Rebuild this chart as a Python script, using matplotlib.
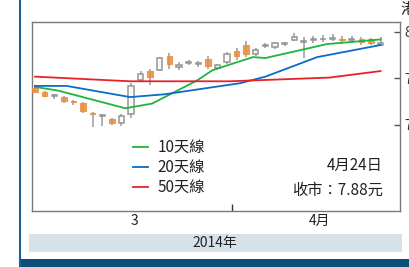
import matplotlib
matplotlib.use("Agg")
import matplotlib.pyplot as plt
from matplotlib.patches import Rectangle
from matplotlib.lines import Line2D
import numpy as np

plt.rcParams['font.family'] = ['Noto Sans CJK TC', 'DejaVu Sans']

# ---- data (trading-day index, prices in HK$) ----
opens  = [7.40, 7.36, 7.31, 7.30, 7.26, 7.24, 7.13, 7.10, 7.06, 7.02, 7.12, 7.48, 7.58,
          7.59, 7.74, 7.62, 7.67, 7.66, 7.71, 7.61, 7.68, 7.80, 7.86, 7.76, 7.85, 7.84,
          7.87, 7.91, 7.89, 7.91, 7.92, 7.93, 7.92, 7.91, 7.93, 7.92, 7.86]
highs  = [7.42, 7.37, 7.33, 7.31, 7.27, 7.25, 7.14, 7.12, 7.07, 7.12, 7.45, 7.58, 7.60,
          7.73, 7.77, 7.68, 7.70, 7.69, 7.74, 7.66, 7.78, 7.83, 7.90, 7.83, 7.88, 7.89,
          7.89, 7.99, 7.95, 7.96, 7.97, 7.98, 7.96, 7.96, 7.95, 7.94, 7.95]
lows   = [7.35, 7.30, 7.28, 7.24, 7.22, 7.13, 6.98, 6.99, 7.00, 6.99, 7.08, 7.46, 7.43,
          7.58, 7.60, 7.59, 7.64, 7.62, 7.60, 7.59, 7.66, 7.70, 7.73, 7.74, 7.83, 7.82,
          7.85, 7.90, 7.72, 7.88, 7.89, 7.90, 7.87, 7.88, 7.86, 7.86, 7.85]
closes = [7.36, 7.31, 7.31, 7.26, 7.25, 7.15, 7.12, 7.11, 7.02, 7.10, 7.42, 7.55, 7.52,
          7.72, 7.66, 7.64, 7.67, 7.67, 7.63, 7.64, 7.76, 7.74, 7.76, 7.81, 7.86, 7.88,
          7.87, 7.95, 7.90, 7.92, 7.93, 7.94, 7.91, 7.93, 7.89, 7.88, 7.88]

ma10_x = [0, 2.4, 9.4, 12.2, 16.9, 18.5, 22.7, 24.0, 30.4, 36]
ma10_y = [7.41, 7.37, 7.18, 7.23, 7.48, 7.59, 7.73, 7.72, 7.87, 7.92]
ma20_x = [0, 3.3, 9.9, 13.5, 21.4, 24.0, 29.4, 36]
ma20_y = [7.42, 7.42, 7.30, 7.33, 7.45, 7.52, 7.73, 7.86]
ma50_x = [0, 9.9, 20.3, 30.7, 36]
ma50_y = [7.52, 7.47, 7.47, 7.51, 7.58]

legend_labels = ['10天線', '20天線', '50天線']
y_ticks = [7.0, 7.5, 8.0]
y_ticklabels = ['7', '7.5', '8']
month_pos = [10.4, 29.6]
month_labels = ['3', '4月']
month_boundary = [20.5]
date_text = '4月24日'
close_text = '收市：7.88元'
year_text = '2014年'
unit_text = '港元'

# ---- figure ----
fig = plt.figure(figsize=(4.09, 2.67), dpi=100)
W, H = 409, 267
ax = fig.add_axes([32 / W, 56 / H, 368 / W, 189 / H])

o = np.array(opens); c = np.array(closes); h = np.array(highs); l = np.array(lows)
x = np.arange(len(o))
up = c >= o
grey = '#8a8a8a'
orange = '#ea8e3c'
ax.vlines(x, l, h, color=grey, lw=1.1, zorder=2, alpha=0.85)
body_lo = np.minimum(o, c)
body_h = np.maximum(np.abs(c - o), 0.01)
ax.bar(x[up], body_h[up], bottom=body_lo[up], width=0.55, color='white',
       edgecolor=grey, linewidth=1.1, zorder=3, alpha=0.9)
ax.bar(x[~up], body_h[~up], bottom=body_lo[~up], width=0.6, color=orange,
       edgecolor=orange, linewidth=0.8, zorder=3, alpha=0.85)

ax.plot(ma10_x, ma10_y, color='#1fb43c', lw=1.3, zorder=4, label=legend_labels[0])
ax.plot(ma20_x, ma20_y, color='#0a6cc4', lw=1.3, zorder=4, label=legend_labels[1])
ax.plot(ma50_x, ma50_y, color='#e82128', lw=1.3, zorder=4, label=legend_labels[2])

ax.set_xlim(-0.3125, 38.02)
ax.set_ylim(6.075, 8.1075)

for s in ax.spines.values():
    s.set_color('#7a7a7a')
    s.set_linewidth(1.0)

ax.yaxis.tick_right()
ax.set_yticks(y_ticks)
ax.set_yticklabels(y_ticklabels, fontsize=10, color='#333333')
ax.tick_params(axis='y', direction='in', length=4, width=1, color='#555555', pad=3)

ax.set_xticks(month_boundary)
ax.set_xticklabels([''])
ax.tick_params(axis='x', which='major', direction='in', length=5, width=1, color='#333333')
ax.set_xticks(month_pos, minor=True)
ax.set_xticklabels(month_labels, minor=True, fontsize=10, color='#222222')
ax.tick_params(axis='x', which='minor', length=0, pad=2)

leg = ax.legend(loc='upper left', bbox_to_anchor=((133 - 32) / 368, (211 - 139) / 189),
                frameon=False, fontsize=11, handlelength=1.0, handletextpad=0.6,
                labelspacing=0.2, borderpad=0, borderaxespad=0)
for t in leg.get_texts():
    t.set_color('#222222')

ax.text(0.954, (211 - 165) / 189, date_text, transform=ax.transAxes, ha='right',
        va='center', fontsize=11, color='#222222')
ax.text(0.954, (211 - 190) / 189, close_text, transform=ax.transAxes, ha='right',
        va='center', fontsize=11, color='#222222')

# frame decorations
fig.patches.append(Rectangle((29 / W, 15 / H), 373 / W, 18 / H, transform=fig.transFigure,
                             facecolor='#d6e2ea', edgecolor='none', zorder=0))
fig.text(215 / W, (267 - 243) / H, year_text, ha='center', va='center', fontsize=10,
         color='#222222')
fig.patches.append(Rectangle((19 / W, 0), 390 / W, 8 / H, transform=fig.transFigure,
                             facecolor='#0b4f7a', edgecolor='none', zorder=0))
fig.lines.append(Line2D([20 / W, 20 / W], [0, 1], transform=fig.transFigure,
                        color='#1d5f90', lw=1.5))
fig.text(400 / W, (267 - 9) / H, unit_text, ha='left', va='center', fontsize=11,
         color='#222222')

fig.savefig('out.png', dpi=100)
